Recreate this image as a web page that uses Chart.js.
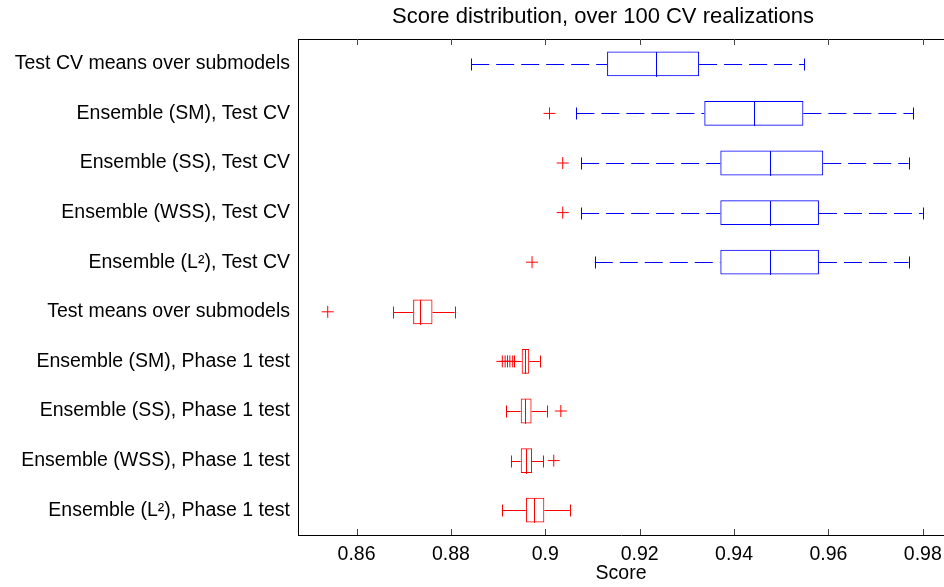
<!DOCTYPE html>
<html>
<head>
<meta charset="utf-8">
<script src="https://cdn.jsdelivr.net/npm/chart.js@4/dist/chart.umd.min.js"></script>
<style>
  body { margin: 0; background: #fff; }
  #wrap { width: 944px; height: 587px; }
</style>
</head>
<body>
<div id="wrap"><canvas id="grafico" width="944" height="587"></canvas></div>
<script>
// categorias, de arriba hacia abajo
const labels = [
  'Test CV means over submodels',
  'Ensemble (SM), Test CV',
  'Ensemble (SS), Test CV',
  'Ensemble (WSS), Test CV',
  'Ensemble (L²), Test CV',
  'Test means over submodels',
  'Ensemble (SM), Phase 1 test',
  'Ensemble (SS), Phase 1 test',
  'Ensemble (WSS), Phase 1 test',
  'Ensemble (L²), Phase 1 test'
];

// estadisticos de cada caja
const lowerWhisker = [0.8843, 0.9066, 0.9076, 0.9076, 0.9105, 0.8678, 0.8933, 0.8917, 0.8927, 0.8908];
const q1 = [0.9131, 0.9337, 0.9371, 0.9371, 0.9371, 0.8720, 0.8950, 0.8948, 0.8948, 0.8959];
const medians = [0.9235, 0.9442, 0.9476, 0.9476, 0.9476, 0.8735, 0.8956, 0.8956, 0.8959, 0.8977];
const q3 = [0.9326, 0.9547, 0.9589, 0.9580, 0.9580, 0.8761, 0.8966, 0.8971, 0.8972, 0.8998];
const upperWhisker = [0.9549, 0.9780, 0.9770, 0.9800, 0.9770, 0.8808, 0.8988, 0.9003, 0.8996, 0.9052];

// valores atipicos (fila, valor)
const outlierRows = [1, 2, 3, 4, 5, 6, 6, 6, 6, 6, 7, 8];
const outlierValues = [0.9009, 0.9037, 0.9037, 0.8972, 0.8539, 0.8909, 0.8915, 0.8920, 0.8925, 0.8931, 0.9033, 0.9018];

const tickValues = [0.86, 0.88, 0.90, 0.92, 0.94, 0.96, 0.98];

const titulo = 'Score distribution, over 100 CV realizations';

const BLUE = '#0000ff';
const RED = '#ff0000';
const rowColor = labels.map((l, i) => i < 5 ? BLUE : RED);
const FONT = '"Liberation Sans", Arial, Helvetica, sans-serif';

// bigotes, medianas, marcas y titulo
const boxExtras = {
  id: 'boxExtras',
  afterDatasetsDraw(chart) {
    const ctx = chart.ctx;
    const x = chart.scales.x;
    const y = chart.scales.y;
    const bars = chart.getDatasetMeta(0).data;
    ctx.save();
    ctx.lineWidth = 1;
    labels.forEach((l, i) => {
      const yc = Math.round(y.getPixelForValue(i)) + 0.5;
      const h = bars[i].height / 2;
      const cap = 6;
      ctx.strokeStyle = rowColor[i];
      // mediana
      ctx.setLineDash([]);
      ctx.beginPath();
      const xm = Math.round(x.getPixelForValue(medians[i])) + 0.5;
      ctx.moveTo(xm, yc - h);
      ctx.lineTo(xm, yc + h);
      ctx.stroke();
      // bigotes
      ctx.setLineDash(i < 5 ? [18, 7] : []);
      ctx.beginPath();
      ctx.moveTo(x.getPixelForValue(lowerWhisker[i]), yc);
      ctx.lineTo(x.getPixelForValue(q1[i]), yc);
      ctx.moveTo(x.getPixelForValue(q3[i]), yc);
      ctx.lineTo(x.getPixelForValue(upperWhisker[i]), yc);
      ctx.stroke();
      ctx.setLineDash([]);
      ctx.beginPath();
      const xl = Math.round(x.getPixelForValue(lowerWhisker[i])) + 0.5;
      const xu = Math.round(x.getPixelForValue(upperWhisker[i])) + 0.5;
      ctx.moveTo(xl, yc - cap);
      ctx.lineTo(xl, yc + cap);
      ctx.moveTo(xu, yc - cap);
      ctx.lineTo(xu, yc + cap);
      ctx.stroke();
    });
    // borde superior y marcas hacia dentro
    const a = chart.chartArea;
    ctx.strokeStyle = '#000';
    ctx.beginPath();
    ctx.moveTo(a.left, a.top + 0.5);
    ctx.lineTo(a.right, a.top + 0.5);
    ctx.stroke();
    ctx.strokeStyle = '#444';
    ctx.beginPath();
    tickValues.forEach(v => {
      const px = Math.round(x.getPixelForValue(v)) + 0.5;
      ctx.moveTo(px, a.bottom);
      ctx.lineTo(px, a.bottom - 6);
      ctx.moveTo(px, a.top);
      ctx.lineTo(px, a.top + 6);
    });
    ctx.stroke();
    // titulo
    ctx.fillStyle = '#000';
    ctx.font = '22px ' + FONT;
    ctx.textAlign = 'center';
    ctx.textBaseline = 'middle';
    ctx.fillText(titulo, 603, 17);
    ctx.restore();
  }
};

const canvas = document.querySelector('#grafico');

const config = {
  type: 'bar',
  data: {
    labels: labels,
    datasets: [
      {
        label: 'box',
        data: labels.map((l, i) => [q1[i], q3[i]]),
        backgroundColor: 'rgba(0,0,0,0)',
        borderColor: rowColor,
        borderWidth: 1,
        borderSkipped: false,
        barPercentage: 0.5,
        categoryPercentage: 1.0
      },
      {
        type: 'scatter',
        label: 'outliers',
        data: outlierValues.map((v, k) => ({ x: v, y: labels[outlierRows[k]] })),
        pointStyle: 'cross',
        pointRadius: 6,
        borderColor: RED,
        borderWidth: 1,
        showLine: false,
        clip: false
      }
    ]
  },
  options: {
    indexAxis: 'y',
    responsive: false,
    animation: false,
    layout: { autoPadding: false, padding: { top: 39, right: 0, bottom: 0, left: 0 } },
    plugins: {
      legend: { display: false },
      tooltip: { enabled: false }
    },
    scales: {
      x: {
        type: 'linear',
        min: 0.8476,
        max: 0.9845,
        grid: { display: false, drawTicks: false },
        border: { display: true, color: '#000', width: 1 },
        afterBuildTicks: (axis) => { axis.ticks = tickValues.map(v => ({ value: v })); },
        afterFit: (axis) => {
          axis.height = 52;
          axis.paddingLeft = 0;
          axis.paddingRight = 0;
        },
        ticks: {
          padding: 8,
          color: '#000',
          font: { family: FONT, size: 19.5 },
          callback: (v) => String(Math.round(v * 100) / 100)
        },
        title: {
          display: true,
          text: 'Score',
          color: '#000',
          font: { family: FONT, size: 19.5 },
          padding: { top: 0, bottom: 2 }
        }
      },
      y: {
        type: 'category',
        offset: true,
        grid: { display: false, drawTicks: false },
        border: { display: true, color: '#000', width: 1 },
        afterFit: (axis) => { axis.width = 298; },
        ticks: {
          padding: 8,
          color: '#000',
          font: { family: FONT, size: 19.5 }
        }
      }
    }
  },
  plugins: [boxExtras]
};

const myChart = new Chart(canvas, config);
</script>
</body>
</html>
